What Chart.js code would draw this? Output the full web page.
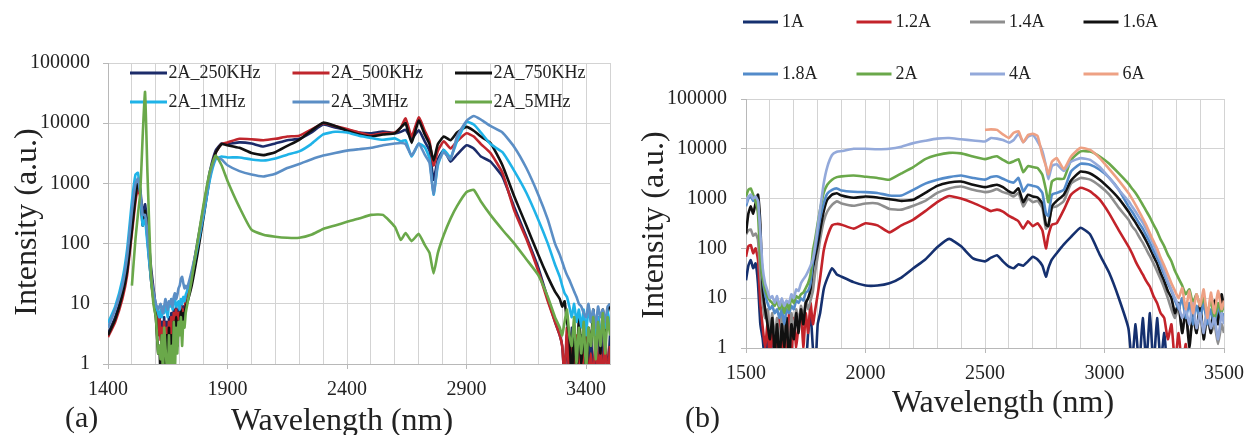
<!DOCTYPE html>
<html>
<head>
<meta charset="utf-8">
<script src="https://cdn.jsdelivr.net/npm/chart.js@4.4.0/dist/chart.umd.min.js"></script>
<style>
  body { margin: 0; background: #fff; width: 1253px; height: 435px; overflow: hidden; position: relative; font-family: "Liberation Serif", serif; }
  canvas { position: absolute; top: 0; }
  #left { left: 0; }
  #right { left: 625px; }
  .tag { position: absolute; font-size: 30px; line-height: 30px; color: #222; }
</style>
</head>
<body>
<canvas id="left" width="625" height="435"></canvas>
<canvas id="right" width="628" height="435"></canvas>
<div class="tag" style="left:65px;top:402px">(a)</div>
<div class="tag" style="left:685px;top:402px">(b)</div>
<script>
// decade ticks shared by both panels
const Y_TICKS = [1, 10, 100, 1000, 10000, 100000];

// ---- panel (a) ----
const waveA = [1400,1430,1460,1480,1500,1515,1525,1535,1545,1555,1565,1580,1590,
  1600,1605,1610,1615,1620,1625,1630,1635,1640,1645,1650,1655,1660,1665,1670,1675,1680,1685,1690,1695,1700,1705,1710,1715,1720,1725,1730,
  1750,1775,1800,1825,1850,1875,1900,1950,2000,2050,2100,2150,2200,2250,2300,2350,2400,2450,2500,2550,
  2600,2625,2645,2670,2700,2725,2745,2762,2780,2805,2833,2860,2900,2930,2960,3000,3050,3100,3150,3200,3240,3270,
  3290,3300,3310,3320,3330,3340,3350,3360,3370,3380,3390,3400,3410,3420,3430,3440,3450,3460,3470,3480,3490,3500];
const labelsA = ['2A_250KHz', '2A_500KHz', '2A_750KHz', '2A_1MHz', '2A_3MHz', '2A_5MHz'];
const f250k = [3.2,6,15,40,200,700,1150,800,300,450,200,40,18,
  9,6,4,7,3,5,2,6,1.5,5,1.2,6,3,7,2.5,8,5,9,4,8,6,10,7,9,8,12,14,
  30,110,400,1500,3500,4600,4500,4800,4600,4100,4600,5200,5500,7000,9500,8500,7700,7000,6800,7300,
  6800,7200,7800,5500,7600,5000,3500,1150,2500,3600,2300,3000,4300,3800,2800,2300,1300,400,130,40,12,5,
  3,2,0.6,3,0.5,4,0.6,2,0.5,3,0.8,5,0.5,3,0.6,2,0.5,4,1,2.5,0.6,3];
const f500k = [2.8,5,12,30,150,500,800,600,250,300,150,30,15,
  8,5,3,6,2.5,4,1.5,5,0.8,4,1,5,2,6,1.5,7,4,8,3,7,5,9,6,8,7,11,12,
  25,90,330,1300,3200,4500,4800,5500,5400,5200,5500,6000,6200,7800,10000,9000,8000,7000,6300,6800,
  7000,8500,12000,6000,12500,7500,5000,2000,3500,5000,3800,5000,6800,6000,4500,3200,1500,350,120,35,11,5,
  3,2,0.6,4,0.5,2,0.5,3,0.5,2,0.7,4,0.5,1.5,0.5,3,0.6,2,0.5,3,0.5,2];
const f750k = [3,5.5,14,35,170,600,1000,700,200,350,120,25,12,
  6,3,1.5,2,0.6,3,0.4,2,0.5,3,0.4,4,0.5,3,0.6,5,2,6,2,5,4,8,4,7,6,9,10,
  20,70,280,1200,3200,4500,4300,3900,3200,2950,3300,4200,5300,7500,10200,9000,7500,6500,6000,6500,
  6800,8500,10000,4700,11000,6500,4500,2400,4500,6000,5200,7000,8700,7500,6000,4700,2000,600,200,65,28,16,
  12,9,11,5,3,0.5,4,0.6,6,1,5,0.6,4,2,8,3,6,1.5,8,3,7,10];
const f1m = [4.8,9,25,80,500,1400,1500,700,200,250,100,25,14,
  9,8,7,6,8,6,9,7,10,8,6,10,9,12,8,11,12,9,10,11,8,12,10,13,11,14,16,
  30,90,300,1100,2500,2800,2700,2700,2500,2400,2600,3000,3400,4500,6500,7200,7000,6200,5700,5300,
  5600,5000,5200,2800,4600,4000,2600,650,2000,3600,2700,5000,10500,9500,7000,4500,3300,1600,700,250,100,45,
  28,20,15,13,9,6,10,5,8,4,8,3,9,5,7,3,6,2.5,7,4,8,4];
const f3m = [4,8,20,60,350,1000,1200,700,300,300,150,30,16,
  10,9,8,9,10,8,7,9,12,10,8,11,10,12,9,13,15,12,14,18,20,26,28,22,18,20,18,
  35,100,350,1300,2700,2500,2000,1600,1400,1300,1450,1800,2100,2500,2900,3200,3500,3700,3900,4300,
  4600,4700,4500,2900,4600,3000,2200,650,2200,3300,2500,6000,11000,13200,11500,9000,7000,4000,1800,650,250,100,
  65,50,38,30,25,20,16,13,10,9,7,6,10,5,8,4,9,6,8,5,9,10];
const f5m = [null,null,null,null,20,120,300,700,6000,33000,1500,30,10,
  6,3,1.5,2,1.2,3,0.6,4,2,1,0.4,3,0.5,2,0.4,5,0.8,4,1.5,5,3,6,2,5,4,7,9,
  25,110,450,1500,2900,2000,1100,400,170,140,130,125,125,140,175,200,230,260,300,300,
  190,115,150,110,145,95,70,32,70,140,260,420,720,780,500,300,170,100,55,30,13,6,
  4,3,5,8,3,2,6,1,4,1.5,5,0.8,4,2,6,1.2,5,2,7,1.5,6,3];
const colorsA = ['#1c2c6a', '#c0262d', '#111111', '#1fb3e8', '#5b8ec5', '#6aa84a'];

// ---- panel (b) ----
const waveB = [1500,1510,1520,1530,1540,1550,1560,1570,
  1580,1590,1600,1610,1620,1630,1640,1650,1660,1670,1680,1690,1700,1710,1720,1730,1740,1750,1760,1770,1780,1790,1800,
  1810,1825,1840,1860,1880,1900,1950,2000,2050,2100,2150,2200,2250,2300,2350,2400,2450,2500,
  2525,2550,2575,2600,2620,2640,2660,2680,2700,2720,2740,2755,2765,2780,2800,2830,2860,2900,2940,2980,3020,3060,3100,
  3115,3130,3145,3160,3175,3190,3205,3220,3235,3250,3265,3280,3295,3310,3325,3340,3355,3370,3385,3400,3415,3430,3445,3460,3475,3490,3500];
const wave6A = [2500,
  2525,2550,2575,2600,2620,2640,2660,2680,2700,2720,2740,2755,2765,2780,2800,2830,2860,2900,2940,2980,3020,3060,3100,
  3115,3130,3145,3160,3175,3190,3205,3220,3235,3250,3265,3280,3295,3310,3325,3340,3355,3370,3385,3400,3415,3430,3445,3460,3475,3490,3500];
const labelsB = ['1A', '1.2A', '1.4A', '1.6A', '1.8A', '2A', '4A', '6A'];
const i1 = [23,45,58,40,50,20,3,1.5,
  0.5,2,0.4,3,0.5,0.3,2,0.4,0.3,1.5,0.3,0.5,0.3,0.4,0.3,0.5,0.3,0.4,2,5,1,0.4,3,
  5,15,25,40,30,27,21,18,18,20,26,40,60,105,155,110,63,55,
  65,73,55,43,40,48,45,55,68,60,45,27,40,60,80,120,170,260,190,75,32,10,2.5,
  0.5,3,0.4,4,0.5,5,0.4,4,0.5,2,0.3,0.3,0.3,0.3,0.3,0.3,0.3,0.3,0.3,0.3,0.3,0.3,0.3,0.3,0.3,0.3,0.3];
const i12 = [68,110,117,80,100,60,8,2.6,
  1,3,0.5,4,0.6,2,4,0.5,3,0.5,5,0.7,4,1,3,6,1,5,2,8,3,6,12,
  25,90,170,290,310,300,250,320,290,210,290,380,560,850,1130,1000,820,640,
  560,600,550,450,400,350,250,350,280,320,230,100,180,300,320,600,1200,1650,1400,950,500,230,110,
  80,55,40,30,22,17,11,8,5,4,1.5,3,0.5,2,0.4,1.2,0.3,0.8,0.3,0.3,0.3,0.3,0.3,0.3,0.3,0.3,0.3];
const i14 = [190,230,240,180,200,150,30,8,
  4,6,2,5,1.5,4,1,5,2,4,0.6,5,2,6,3,7,4,9,6,9,14,35,70,
  150,350,550,750,880,800,720,800,800,620,600,720,900,1300,1600,1750,1500,1350,
  1400,1550,1350,1250,1100,1300,700,1000,850,900,650,250,300,650,700,900,2000,2600,2400,1800,1200,650,380,
  280,230,170,130,95,70,50,35,24,16,10,6,4,7,2,5,1.5,4,2,5,1.5,4,2,3,1.2,3,2];
const i16 = [200,500,700,500,800,1200,300,15,
  6,3,1.5,4,0.8,3,0.5,3,1,4,0.5,3,1.5,5,2,6,3,8,10,15,40,70,120,
  230,550,950,1200,1280,1150,1040,1100,1050,970,900,950,1300,1800,2100,2200,1900,1700,
  1800,1900,1700,1400,1300,1600,850,1200,1100,1050,800,300,280,700,900,1200,2300,3500,3200,2400,1600,1000,550,
  420,330,250,190,140,100,70,50,32,22,14,10,5,8,2,6,1,5,2,8,1.5,6,2,9,3,12,6];
const i18 = [700,1000,1100,900,950,900,150,25,
  12,8,6,7,5,6,4,6,3,6,5,7,6,9,8,10,9,13,14,20,55,100,200,
  400,800,1250,1500,1600,1450,1370,1350,1300,1150,1150,1500,2000,2400,2700,2900,2600,2400,
  2700,2800,2500,2200,2100,2600,1400,1900,1800,1700,1300,500,450,1200,1300,1500,3500,5000,4800,3800,2600,1500,700,
  550,420,320,250,180,130,90,65,45,30,20,14,9,6,10,4,8,3,7,4,8,3,6,3,7,4,5];
const i2 = [1100,1500,1600,1200,900,500,60,25,
  15,11,9,8,7,9,6,8,5,8,6,10,8,11,10,12,13,16,20,30,90,160,320,
  600,1300,1900,2400,2700,2800,2900,2750,2600,2400,3200,4300,6200,7500,8300,8100,7000,6200,
  6700,7100,6000,5200,5600,6200,3400,4500,4300,4100,3000,1500,850,2200,2500,2500,6000,8900,8800,7000,5000,3200,2000,
  1600,1300,1000,750,560,420,300,220,150,110,75,55,35,25,18,12,15,8,12,7,10,5,9,4,8,5,8];
const i4 = [800,1100,1200,1000,1100,900,200,40,
  20,14,10,11,8,11,7,10,7,9,8,12,10,15,14,20,24,28,35,45,60,120,280,
  600,2000,4300,7500,8700,9000,10000,10000,9800,10000,11000,13000,14500,16000,16500,15500,14700,14000,
  16500,16000,15000,13300,15000,20000,13500,17500,19000,14000,9000,4500,2450,4500,4900,3600,5500,6500,6000,4300,2600,1500,900,
  700,550,420,330,240,170,120,80,55,35,22,15,10,7,4,6,3,8,2.5,5,2,6,2.5,4,1.5,5,3];
const i6 = [24000,
  24500,24000,19500,16500,21000,22500,13500,19000,20000,18000,7500,4500,3100,5500,6500,3900,7000,10500,9500,6500,3900,2300,1300,
  1000,750,550,400,290,200,140,100,65,45,30,20,14,10,16,6,14,5,12,7,15,4,13,5,14,6,9];
const colorsB = ['#15306f', '#c3232a', '#8e8e8e', '#111111', '#538bca', '#6aa84a', '#93a9da', '#eea184'];

const pts = (xs, ys) => xs.map((x, i) => ({ x: x, y: ys[i] }));

function makeSets(labels, colors, series) {
  return series.map((s, i) => ({
    label: labels[i],
    data: pts(s[0], s[1]),
    borderColor: colors[i],
    borderWidth: 2.6,
    pointRadius: 0,
    tension: 0.15,
    fill: false,
    order: series.length - i
  }));
}

// legend drawn under the curves, in rows like the original
const rowLegend = {
  id: 'rowLegend',
  beforeDatasetsDraw(chart, args, o) {
    const ctx = chart.ctx;
    ctx.save();
    ctx.font = '18px "Liberation Serif", serif';
    ctx.textBaseline = 'middle';
    ctx.fillStyle = '#222';
    chart.data.datasets.forEach((ds, i) => {
      const x = o.x + (i % o.cols) * o.dx;
      const y = o.y + Math.floor(i / o.cols) * o.dy;
      ctx.strokeStyle = ds.borderColor;
      ctx.lineWidth = 3;
      ctx.beginPath();
      ctx.moveTo(x, y);
      ctx.lineTo(x + o.len, y);
      ctx.stroke();
      ctx.fillText(ds.label, x + o.len + o.gap, y);
    });
    ctx.restore();
  }
};

const axisText = {
  id: 'axisText',
  afterDraw(chart, args, o) {
    const ctx = chart.ctx;
    ctx.save();
    ctx.font = '32px "Liberation Serif", serif';
    ctx.fillStyle = '#222';
    ctx.textAlign = 'center';
    ctx.textBaseline = 'alphabetic';
    ctx.fillText('Wavelength (nm)', o.xt[0], o.xt[1]);
    ctx.translate(o.yt[0], o.yt[1]);
    ctx.rotate(-Math.PI / 2);
    ctx.fillText('Intensity (a.u.)', 0, 0);
    ctx.restore();
  }
};

const tickFont = { family: '"Liberation Serif", serif', size: 20 };
const gridCol = '#d3d3d3';
const axisCol = '#b8b8b8';

function xScale(min, max, boxH) {
  return {
    type: 'linear', min: min, max: max,
    ticks: {
      stepSize: 100, autoSkip: false, maxRotation: 0, padding: 9,
      font: tickFont, color: '#222',
      callback: v => ((v - min) % 500 === 0 ? String(v) : '')
    },
    grid: {
      color: gridCol, tickLength: 5,
      tickColor: c => (c.tick && (c.tick.value - min) % 500 === 0 ? axisCol : 'rgba(0,0,0,0)')
    },
    border: { color: axisCol },
    afterFit: s => { s.height = boxH; }
  };
}

function yScale(boxW, pad) {
  return {
    type: 'logarithmic', min: 1, max: 100000,
    afterBuildTicks: s => { s.ticks = Y_TICKS.map(v => ({ value: v })); },
    ticks: { padding: pad, font: tickFont, color: '#222', callback: v => String(v) },
    grid: { color: gridCol, tickLength: 5, tickColor: axisCol },
    border: { color: axisCol },
    afterFit: s => { s.width = boxW; }
  };
}

function panel(id, sets, xr, box, legend, texts) {
  new Chart(document.getElementById(id), {
    type: 'line',
    data: { datasets: sets },
    plugins: [rowLegend, axisText],
    options: {
      responsive: false,
      animation: false,
      devicePixelRatio: 1,
      layout: { padding: { top: box.top, right: box.right, left: 0, bottom: 0 } },
      scales: { x: xScale(xr[0], xr[1], box.xh), y: yScale(box.yw, box.pad) },
      plugins: {
        legend: { display: false },
        tooltip: { enabled: false },
        rowLegend: legend,
        axisText: texts
      }
    }
  });
}

panel('left',
  makeSets(labelsA, colorsA, [[waveA, f250k], [waveA, f500k], [waveA, f750k], [waveA, f1m], [waveA, f3m], [waveA, f5m]]),
  [1400, 3500],
  { top: 63, right: 15, xh: 71, yw: 108, pad: 13 },
  { x: 130, y: 73, dx: 162.5, dy: 29, cols: 3, len: 37, gap: 1.5 },
  { xt: [342, 430], yt: [36, 222] });

panel('right',
  makeSets(labelsB, colorsB, [[waveB, i1], [waveB, i12], [waveB, i14], [waveB, i16], [waveB, i18], [waveB, i2], [waveB, i4], [wave6A, i6]]),
  [1500, 3500],
  { top: 99, right: 25, xh: 87, yw: 121, pad: 14 },
  { x: 118, y: 22, dx: 113.5, dy: 52, cols: 4, len: 35, gap: 4 },
  { xt: [378, 412], yt: [38, 225] });
</script>
</body>
</html>
